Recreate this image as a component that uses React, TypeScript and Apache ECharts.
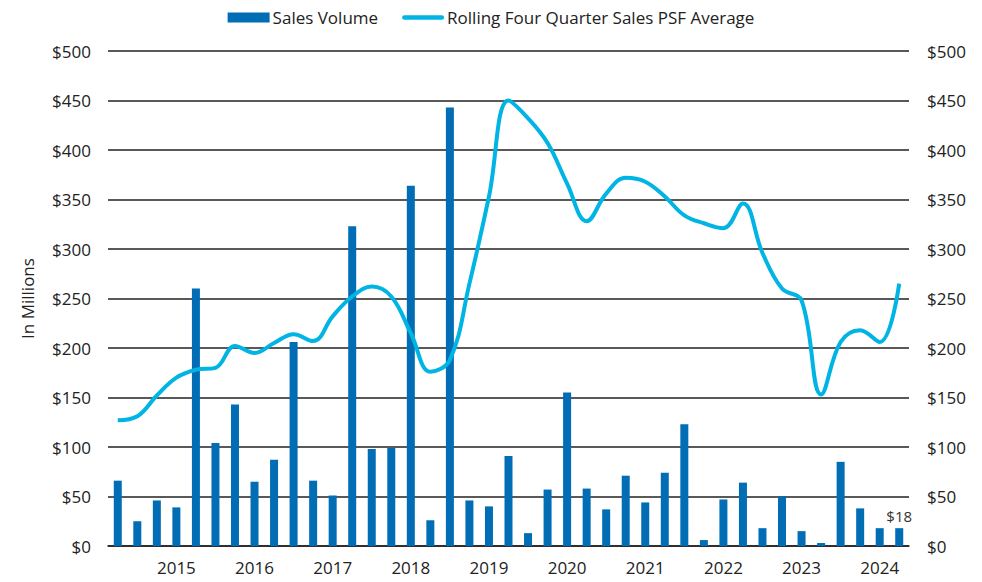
import React, { useEffect, useRef } from "react";
import * as echarts from "echarts";

const quarters: string[] = [
  "Q2 2014", "Q3 2014", "Q4 2014",
  "Q1 2015", "Q2 2015", "Q3 2015", "Q4 2015",
  "Q1 2016", "Q2 2016", "Q3 2016", "Q4 2016",
  "Q1 2017", "Q2 2017", "Q3 2017", "Q4 2017",
  "Q1 2018", "Q2 2018", "Q3 2018", "Q4 2018",
  "Q1 2019", "Q2 2019", "Q3 2019", "Q4 2019",
  "Q1 2020", "Q2 2020", "Q3 2020", "Q4 2020",
  "Q1 2021", "Q2 2021", "Q3 2021", "Q4 2021",
  "Q1 2022", "Q2 2022", "Q3 2022", "Q4 2022",
  "Q1 2023", "Q2 2023", "Q3 2023", "Q4 2023",
  "Q1 2024", "Q2 2024",
];

const salesVolume: number[] = [
  66, 25, 46, 39,
  260, 104, 143, 65,
  87, 206, 66, 51,
  323, 98, 99, 364,
  26, 443, 46, 40,
  91, 13, 57, 155,
  58, 37, 71, 44,
  74, 123, 6, 47,
  64, 18, 50, 15,
  3, 85, 38, 18,
  18,
];

const psfAverage: number[] = [
  127, 131, 152, 170,
  178, 180, 202, 195,
  205, 214, 207, 232,
  252, 262, 252, 215,
  176, 188, 265, 353,
  450, 432, 407, 366,
  328, 356, 372, 368,
  353, 334, 326, 321,
  346, 296, 260, 248,
  153, 206, 218, 206,
  265,
];

const yTicks = { min: 0, max: 500, interval: 50 };
const lastLabel = "$18";

const lineIcon =
  "path://M0,0 L0.01,0 L0,0.01 Z M46,10 L45.99,10 L46,9.99 Z M2.5,2.5 H43.5 A2.5,2.5 0 0 1 43.5,7.5 H2.5 A2.5,2.5 0 0 1 2.5,2.5 Z";

export default function App() {
  const ref = useRef<HTMLDivElement>(null);
  useEffect(() => {
    if (!ref.current) return;
    const chart = echarts.init(ref.current, null, { renderer: "svg" });
    const font = "'Open Sans', 'Noto Sans', sans-serif";
    const yAxisCommon = {
      type: "value" as const,
      min: yTicks.min,
      max: yTicks.max,
      interval: yTicks.interval,
      axisLine: { show: false },
      axisTick: { show: false },
      axisLabel: {
        formatter: (v: number) => "$" + v,
        color: "#222",
        fontSize: 17,
        fontFamily: font,
      },
    };
    chart.setOption({
      animation: false,
      textStyle: { fontFamily: font },
      legend: {
        top: 4,
        left: "center",
        itemWidth: 42,
        itemHeight: 10,
        itemGap: 24,
        textStyle: { color: "#222", fontSize: 17, fontFamily: font, padding: [0, 0, 0, -2] },
        data: [
          { name: "Sales Volume", icon: "rect" },
          {
            name: "Rolling Four Quarter Sales PSF Average",
            icon: lineIcon,
            itemStyle: { color: "#00B4E3" },
          },
        ],
      },
      grid: { left: 108, right: 73, top: 51, bottom: 36, containLabel: false },
      xAxis: {
        type: "category",
        data: quarters,
        axisLine: { show: true, lineStyle: { color: "#222", width: 1.5 } },
        axisTick: { show: false },
        axisLabel: {
          interval: (i: number) => (i - 3) % 4 === 0,
          formatter: (v: string) => v.split(" ")[1],
          color: "#222",
          fontSize: 17,
          fontFamily: font,
          margin: 13,
        },
      },
      yAxis: [
        {
          ...yAxisCommon,
          name: "In Millions",
          nameLocation: "middle",
          nameGap: 72,
          nameTextStyle: { color: "#222", fontSize: 17, fontFamily: font },
          axisLabel: { ...yAxisCommon.axisLabel, margin: 17 },
          splitLine: { show: true, lineStyle: { color: "#222", width: 1.5 } },
        },
        {
          ...yAxisCommon,
          position: "right",
          axisLabel: { ...yAxisCommon.axisLabel, margin: 18 },
          splitLine: { show: false },
        },
      ],
      series: [
        {
          name: "Sales Volume",
          type: "bar",
          data: salesVolume.map((v, i) =>
            i === salesVolume.length - 1
              ? {
                  value: v,
                  label: {
                    show: true,
                    position: "top",
                    formatter: lastLabel,
                    color: "#333",
                    fontSize: 15,
                    fontFamily: font,
                    distance: 5,
                  },
                }
              : v
          ),
          barWidth: 8,
          itemStyle: { color: "#006DB5" },
        },
        {
          name: "Rolling Four Quarter Sales PSF Average",
          type: "line",
          data: psfAverage,
          smooth: 0.4,
          showSymbol: false,
          symbol: "none",
          lineStyle: { color: "#00B4E3", width: 4 },
          itemStyle: { color: "#00B4E3" },
        },
      ],
    });
    return () => chart.dispose();
  }, []);
  return (
    <div
      ref={ref}
      style={{ position: "absolute", left: 0, top: 0, width: 982, height: 582 }}
    />
  );
}
